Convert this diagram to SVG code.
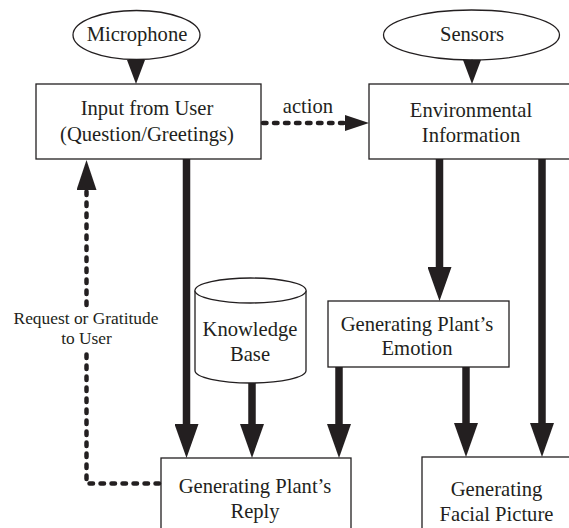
<svg xmlns="http://www.w3.org/2000/svg" width="569" height="528" viewBox="0 0 569 528">
<style>
  .box { fill: #ffffff; stroke: #231f20; stroke-width: 1.3; }
  .t { font-family: "Liberation Serif", "Times New Roman", serif; font-size: 20.6px; fill: #231f20; text-anchor: middle; }
  .ts { font-family: "Liberation Serif", "Times New Roman", serif; font-size: 17.4px; fill: #231f20; text-anchor: middle; }
  .thick { fill: none; stroke: #231f20; stroke-width: 7.5; }
  .dash { fill: none; stroke: #231f20; stroke-width: 4.5; stroke-dasharray: 3.5 7.5; stroke-linecap: round; }
  .thin { fill: none; stroke: #231f20; stroke-width: 1; }
</style>
<defs>
  <marker id="big" viewBox="0 -12 34 24" markerWidth="34" markerHeight="24" refX="0" refY="0" markerUnits="userSpaceOnUse" orient="auto">
    <path d="M0,-12 L34,0 L0,12 Z" fill="#231f20"/>
  </marker>
  <marker id="small" viewBox="0 -9 24 18" markerWidth="24" markerHeight="18" refX="0" refY="0" markerUnits="userSpaceOnUse" orient="auto">
    <path d="M0,-9 L24,0 L0,9 Z" fill="#231f20"/>
  </marker>
  <marker id="act" viewBox="0 -8 24 16" markerWidth="24" markerHeight="16" refX="0" refY="0" markerUnits="userSpaceOnUse" orient="auto">
    <path d="M0,-8 L24,0 L0,8 Z" fill="#231f20"/>
  </marker>
  <marker id="up" viewBox="0 -10 30 20" markerWidth="30" markerHeight="20" refX="0" refY="0" markerUnits="userSpaceOnUse" orient="auto">
    <path d="M0,-10 L30,0 L0,10 Z" fill="#231f20"/>
  </marker>
</defs>

<g id="microphone">
  <ellipse class="box" cx="136.5" cy="35" rx="63.5" ry="24.5"/>
  <text class="t" x="137" y="40.5">Microphone</text>
</g>
<g id="sensors">
  <ellipse class="box" cx="471.5" cy="35" rx="88" ry="25"/>
  <text class="t" x="472" y="40.5">Sensors</text>
</g>
<g id="input">
  <rect class="box" x="36" y="84" width="225" height="75"/>
  <text class="t" x="147" y="114.5">Input from User</text>
  <text class="t" x="147" y="141">(Question/Greetings)</text>
</g>
<g id="environment">
  <rect class="box" x="369" y="84" width="202" height="75"/>
  <text class="t" x="471" y="117">Environmental</text>
  <text class="t" x="471" y="142">Information</text>
</g>
<g id="knowledge">
  <path class="box" d="M195,290.5 A55.5,12.5 0 0 1 306,290.5 V370.5 A55.5,12.5 0 0 1 195,370.5 Z"/>
  <path class="box" d="M195,290.5 A55.5,12.5 0 0 0 306,290.5" fill="none"/>
  <text class="t" x="250" y="335.5">Knowledge</text>
  <text class="t" x="250" y="360.5">Base</text>
</g>
<g id="emotion">
  <rect class="box" x="328" y="301" width="181" height="66"/>
  <text class="t" x="417" y="331">Generating Plant’s</text>
  <text class="t" x="417" y="354.5">Emotion</text>
</g>
<g id="reply">
  <rect class="box" x="161" y="458" width="190" height="85"/>
  <text class="t" x="255" y="493">Generating Plant’s</text>
  <text class="t" x="255" y="517.5">Reply</text>
</g>
<g id="facial">
  <rect class="box" x="422" y="457" width="152" height="86"/>
  <text class="t" x="496.5" y="495.5">Generating</text>
  <text class="t" x="496.5" y="521">Facial Picture</text>
</g>

<g id="connectors">
  <path class="thin" d="M136,59 L136,60" marker-end="url(#small)"/>
  <path class="thin" d="M472,59.5 L472,60" marker-end="url(#small)"/>
  <path class="dash" d="M263,123 H345" marker-end="url(#act)"/>
  <text class="t" x="308" y="112.5">action</text>
  <path class="thick" d="M186.5,159 V424" marker-end="url(#big)"/>
  <path class="thick" d="M252,383 V424" marker-end="url(#big)"/>
  <path class="thick" d="M439.5,159 V267" marker-end="url(#big)"/>
  <path class="thick" d="M542,159 V423" marker-end="url(#big)"/>
  <path class="thick" d="M339,367 V424" marker-end="url(#big)"/>
  <path class="thick" d="M466,367 V423" marker-end="url(#big)"/>
  <path class="dash" d="M159,483.5 H86.5 V350 M86.5,305 V190" marker-end="url(#up)"/>
  <text class="ts" x="86" y="324">Request or Gratitude</text>
  <text class="ts" x="86.5" y="344">to User</text>
</g>
</svg>
